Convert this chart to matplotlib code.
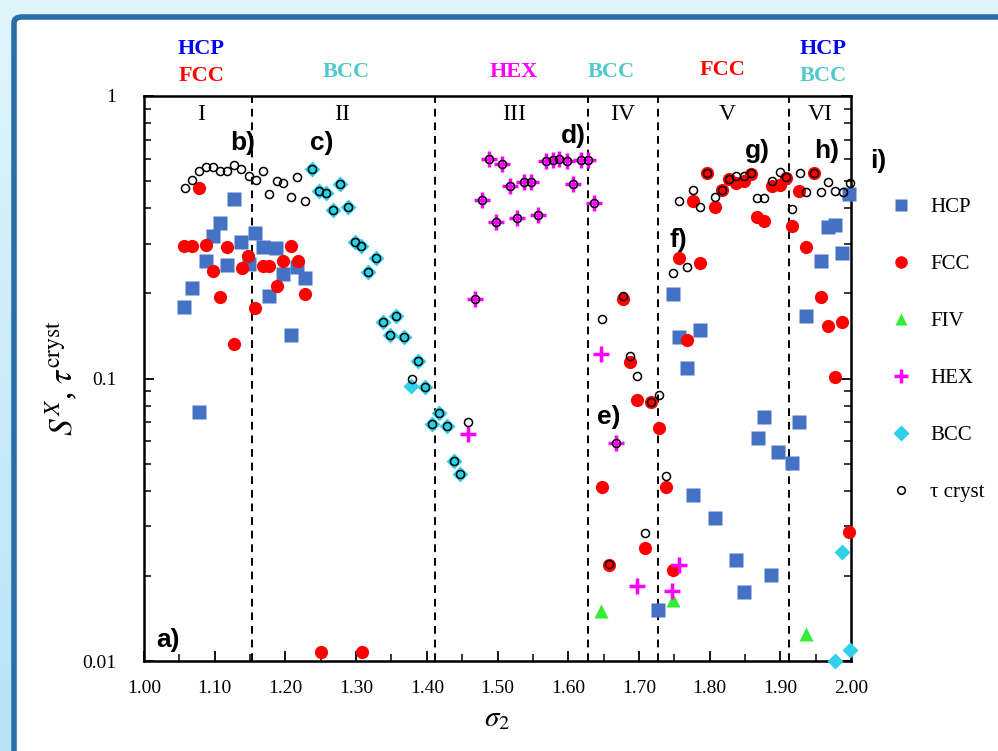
import matplotlib
matplotlib.use("Agg")
import matplotlib.pyplot as plt
from matplotlib.lines import Line2D
from matplotlib.patches import FancyBboxPatch
from matplotlib.colors import LinearSegmentedColormap
import numpy as np

plt.rcParams['font.family'] = ['Liberation Serif', 'DejaVu Serif']
plt.rcParams['mathtext.fontset'] = 'stix'

# ---- data ----
hcp_x = [1.057, 1.068, 1.078, 1.087, 1.097, 1.108, 1.118, 1.128, 1.137, 1.148, 1.157, 1.168,
         1.177, 1.187, 1.197, 1.208, 1.217, 1.228,
         1.727, 1.748, 1.757, 1.768, 1.777, 1.787, 1.807, 1.837, 1.848, 1.868, 1.877, 1.887,
         1.897, 1.917, 1.927, 1.937, 1.958, 1.967, 1.978, 1.987, 1.997]
hcp_y = [0.179, 0.209, 0.0763, 0.261, 0.320, 0.354, 0.252, 0.432, 0.305, 0.254, 0.327, 0.293,
         0.196, 0.289, 0.234, 0.143, 0.249, 0.227,
         0.0152, 0.199, 0.140, 0.109, 0.0387, 0.149, 0.032, 0.0227, 0.0176, 0.0614, 0.0732, 0.0202,
         0.0548, 0.0504, 0.070, 0.166, 0.261, 0.343, 0.349, 0.278, 0.449]

fcc_x = [1.057, 1.068, 1.078, 1.088, 1.097, 1.108, 1.118, 1.128, 1.138, 1.147, 1.157, 1.168,
         1.177, 1.188, 1.197, 1.208, 1.218, 1.228, 1.250, 1.308,
         1.648, 1.658, 1.677, 1.687, 1.697, 1.708, 1.717, 1.728, 1.738, 1.748,
         1.757, 1.768, 1.777, 1.787, 1.797, 1.808, 1.817, 1.827, 1.837, 1.848, 1.859, 1.867,
         1.877, 1.888, 1.899, 1.908, 1.917, 1.927, 1.937, 1.947, 1.957, 1.968, 1.977, 1.987, 1.997]
fcc_y = [0.295, 0.295, 0.471, 0.297, 0.241, 0.194, 0.293, 0.133, 0.247, 0.272, 0.178, 0.250,
         0.250, 0.213, 0.261, 0.294, 0.261, 0.199, 0.0108, 0.0108,
         0.0412, 0.0219, 0.191, 0.114, 0.0839, 0.0252, 0.0824, 0.067, 0.0412, 0.021,
         0.266, 0.137, 0.426, 0.256, 0.533, 0.404, 0.465, 0.507, 0.493, 0.501, 0.528, 0.374,
         0.362, 0.480, 0.484, 0.514, 0.348, 0.462, 0.291, 0.535, 0.195, 0.153, 0.101, 0.158, 0.0286]

fiv_x = [1.647, 1.748, 1.937]
fiv_y = [0.0150, 0.0165, 0.0125]

hex_x = [1.458, 1.468, 1.478, 1.488, 1.498, 1.507, 1.517, 1.528, 1.538, 1.547, 1.557, 1.568,
         1.578, 1.587, 1.598, 1.607, 1.618, 1.628, 1.637, 1.647, 1.668, 1.698, 1.747, 1.757]
hex_y = [0.0636, 0.191, 0.428, 0.597, 0.357, 0.573, 0.480, 0.369, 0.495, 0.495, 0.379, 0.589,
         0.594, 0.597, 0.589, 0.487, 0.594, 0.594, 0.419, 0.122, 0.059, 0.0185, 0.0177, 0.0219]

bcc_x = [1.238, 1.248, 1.258, 1.267, 1.277, 1.288, 1.298, 1.307, 1.317, 1.328, 1.338, 1.348,
         1.357, 1.368, 1.378, 1.388, 1.398, 1.407, 1.417, 1.428, 1.438, 1.447,
         1.978, 1.987, 1.998]
bcc_y = [0.552, 0.462, 0.455, 0.395, 0.487, 0.404, 0.305, 0.294, 0.239, 0.268, 0.159, 0.143,
         0.167, 0.140, 0.094, 0.115, 0.093, 0.069, 0.0757, 0.068, 0.0512, 0.0459,
         0.0100, 0.0244, 0.0109]

tau_x = [1.058, 1.068, 1.078, 1.088, 1.098, 1.108, 1.118, 1.128, 1.137, 1.148, 1.158, 1.168,
         1.177, 1.188, 1.197, 1.208, 1.217, 1.228,
         1.238, 1.248, 1.258, 1.267, 1.277, 1.288, 1.298, 1.307, 1.317, 1.328, 1.338, 1.348,
         1.357, 1.368, 1.379, 1.388, 1.398, 1.407, 1.417, 1.428, 1.438, 1.447, 1.458,
         1.468, 1.478, 1.488, 1.498, 1.507, 1.517, 1.528, 1.538, 1.547, 1.557, 1.568, 1.578,
         1.587, 1.598, 1.607, 1.618, 1.628, 1.637,
         1.648, 1.658, 1.668, 1.677, 1.687, 1.698, 1.708, 1.717, 1.728, 1.738,
         1.748, 1.757, 1.768, 1.777, 1.787, 1.797, 1.808, 1.817, 1.827, 1.837, 1.848, 1.859,
         1.867, 1.877, 1.888, 1.899, 1.908, 1.917, 1.928, 1.937, 1.947, 1.957, 1.968, 1.977,
         1.988, 1.998]
tau_y = [0.474, 0.504, 0.544, 0.559, 0.562, 0.544, 0.544, 0.570, 0.550, 0.521, 0.504, 0.543,
         0.449, 0.500, 0.493, 0.438, 0.515, 0.426,
         0.552, 0.462, 0.455, 0.395, 0.487, 0.404, 0.305, 0.294, 0.239, 0.268, 0.159, 0.143,
         0.167, 0.140, 0.0993, 0.115, 0.093, 0.069, 0.0757, 0.068, 0.0512, 0.0459, 0.0703,
         0.191, 0.428, 0.597, 0.357, 0.573, 0.480, 0.369, 0.495, 0.495, 0.379, 0.589, 0.594,
         0.597, 0.589, 0.487, 0.594, 0.594, 0.419,
         0.1625, 0.022, 0.059, 0.196, 0.120, 0.102, 0.0285, 0.0828, 0.0874, 0.0453,
         0.237, 0.426, 0.249, 0.465, 0.404, 0.533, 0.440, 0.465, 0.507, 0.521, 0.521, 0.533,
         0.435, 0.435, 0.501, 0.537, 0.518, 0.398, 0.533, 0.456, 0.535, 0.456, 0.495, 0.462,
         0.458, 0.491]

boundaries = [1.153, 1.411, 1.628, 1.727, 1.913]
regions = ['I', 'II', 'III', 'IV', 'V', 'VI']
region_x = [1.081, 1.280, 1.523, 1.677, 1.825, 1.956]

# phase labels above the plot: (x, y in axes fraction, text, colour)
phase_labels = [(1.081, 1.083, 'HCP', '#0000ff'), (1.081, 1.036, 'FCC', '#ff0000'),
                (1.286, 1.042, 'BCC', '#4fc9c9'), (1.523, 1.042, 'HEX', '#ff00ff'),
                (1.661, 1.042, 'BCC', '#4fc9c9'), (1.819, 1.046, 'FCC', '#ff0000'),
                (1.960, 1.083, 'HCP', '#0000ff'), (1.960, 1.036, 'BCC', '#4fc9c9')]

panel_tags = [(1.034, 0.0108, 'a)'), (1.139, 0.62, 'b)'), (1.252, 0.62, 'c)'),
              (1.607, 0.655, 'd)'), (1.657, 0.066, 'e)'), (1.756, 0.28, 'f)'),
              (1.868, 0.58, 'g)'), (1.965, 0.58, 'h)'), (2.038, 0.535, 'i)')]

fig = plt.figure(figsize=(9.98, 7.51), dpi=100)
fig.patch.set_facecolor('#dff4fb')

# slide background gradient and frame
bg = fig.add_axes([0, 0, 1, 1], zorder=-10)
bg.imshow(np.linspace(0, 1, 256)[:, None], aspect='auto', extent=(0, 1, 0, 1),
          cmap=LinearSegmentedColormap.from_list('bg', ['#e1f5fc', '#b6e3f8']))
bg.set_axis_off()
frame = FancyBboxPatch((14 / 998, -0.05), 1.1, 1.05 - 17 / 751,
                       boxstyle='round,pad=0,rounding_size=0.008',
                       transform=fig.transFigure, facecolor='white',
                       edgecolor='#2a6ea8', linewidth=4, zorder=-5)
fig.patches.append(frame)

ax = fig.add_axes([144 / 998, 1 - 661 / 751, 707 / 998, 565 / 751])
ax.set_zorder(2)
ax.patch.set_alpha(0)
ax.set_yscale('log')
ax.set_xlim(1.0, 2.0)
ax.set_ylim(0.01, 1)

ax.plot(hcp_x, hcp_y, 's', color='#4472c4', ms=10, mec='none', clip_on=False, zorder=3)
ax.plot(fcc_x, fcc_y, 'o', color='#ff0000', ms=9.5, mec='none', clip_on=False, zorder=3)
ax.plot(fiv_x, fiv_y, '^', color='#33ee33', ms=10, mec='none', clip_on=False, zorder=3)
ax.plot(hex_x, hex_y, '+', color='#ff00ff', ms=11, mew=2.5, clip_on=False, zorder=3)
ax.plot(bcc_x, bcc_y, 'D', color='#30d0e8', ms=8.5, mec='none', clip_on=False, zorder=3)
ax.plot(tau_x, tau_y, 'o', mfc='none', mec='black', ms=5.8, mew=1.1, clip_on=False, zorder=4)

for b in boundaries:
    ax.axvline(b, color='black', ls=(0, (4, 3)), lw=1.4, zorder=2)

for rx, r in zip(region_x, regions):
    ax.text(rx, 0.985, r, transform=ax.get_xaxis_transform(), ha='center', va='top', fontsize=17)

for px, py, t, c in phase_labels:
    ax.text(px, py, t, transform=ax.get_xaxis_transform(), ha='center', va='center',
            fontsize=16, fontweight='bold', color=c)

for px, py, t in panel_tags:
    ax.text(px, py, t, ha='center', va='bottom', fontsize=19, fontweight='bold',
            family='Liberation Sans', clip_on=False)

ax.set_xticks(np.arange(1.0, 2.001, 0.1))
ax.set_xticklabels(['%.2f' % v for v in np.arange(1.0, 2.001, 0.1)])
ax.set_xticks(np.arange(1.05, 2.0, 0.1), minor=True)
ax.set_yticks([0.01, 0.1, 1])
ax.set_yticklabels(['0.01', '0.1', '1'])
ax.tick_params(which='both', direction='in', right=True, top=False, labelsize=14)
ax.tick_params(which='major', length=7, width=1.3)
ax.tick_params(which='minor', length=5, width=1.1)
ax.tick_params(axis='x', pad=14)
ax.tick_params(axis='y', pad=20)
for s in ax.spines.values():
    s.set_linewidth(1.8)

ax.set_xlabel(r'$\sigma_2$', fontsize=21, labelpad=6)
ax.set_ylabel(r'$S^{X}$, $\tau^{\rm cryst}$', fontsize=24, labelpad=2)

handles = [Line2D([], [], ls='none', marker='s', color='#4472c4', ms=9, mec='none'),
           Line2D([], [], ls='none', marker='o', color='#ff0000', ms=9, mec='none'),
           Line2D([], [], ls='none', marker='^', color='#33ee33', ms=9, mec='none'),
           Line2D([], [], ls='none', marker='+', color='#ff00ff', ms=10, mew=2.5),
           Line2D([], [], ls='none', marker='D', color='#30d0e8', ms=8, mec='none'),
           Line2D([], [], ls='none', marker='o', mfc='none', mec='black', ms=5.5, mew=1.1)]
labels = ['HCP', 'FCC', 'FIV', 'HEX', 'BCC', 'τ cryst']
ax.legend(handles, labels, loc='upper left', bbox_to_anchor=(1.041, 0.839), frameon=False,
          fontsize=15, labelspacing=1.8, handlelength=1.0, handletextpad=0.9, borderpad=0)

fig.savefig('out.png', dpi=100, facecolor=fig.get_facecolor())
